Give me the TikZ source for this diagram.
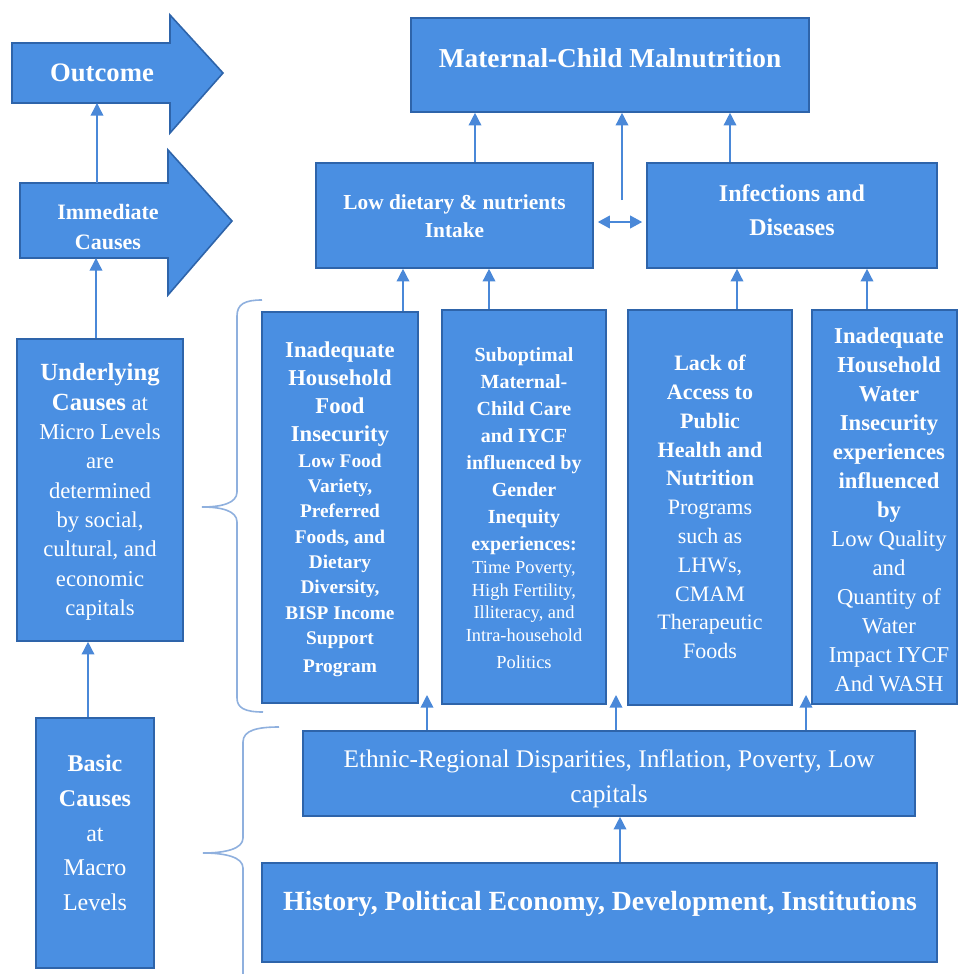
\documentclass[tikz,border=0pt]{standalone}
\usepackage{fontspec}
\setmainfont{Liberation Serif}
\usetikzlibrary{arrows.meta,fit}
\definecolor{boxfill}{HTML}{4A8FE2}
\definecolor{boxline}{HTML}{2E64AA}
\definecolor{conn}{HTML}{4A88D8}
\definecolor{bracec}{HTML}{8FB0DE}
\tikzset{
  box/.style={draw=boxline, line width=1.2pt, fill=boxfill, inner sep=0pt},
  lbl/.style={text=white, inner sep=0pt, align=flush center},
  bigarrow/.style={draw=boxline, line width=1.2pt, fill=boxfill},
  arr/.style={draw=conn, line width=1.1pt, -{Triangle[width=9.5pt,length=9.5pt]}},
  darr/.style={draw=conn, line width=1.1pt, {Triangle[width=9.5pt,length=9pt]}-{Triangle[width=9.5pt,length=9pt]}},
  bracepath/.style={draw=bracec, line width=1.2pt}
}
\begin{document}
\begin{tikzpicture}[x=0.75pt,y=-0.75pt]
\useasboundingbox (0,0) rectangle (960,974);

% ---------- left column: block arrows ----------
\path[bigarrow] (12,43) -- (170,43) -- (170,15) -- (223,73) -- (170,133) -- (170,103) -- (12,103) -- cycle;
\node[lbl, font=\fontsize{20}{24}\selectfont\bfseries] (oc) at (102,73) {Outcome};
\path[bigarrow] (20,183) -- (168,183) -- (168,150) -- (232,221) -- (168,295) -- (168,258) -- (20,258) -- cycle;
\node[lbl, font=\fontsize{16.5}{23}\selectfont\bfseries] (ic) at (108,227) {Immediate\\Causes};
\coordinate (ocs) at (97,103);
\coordinate (icn) at (97,183);
\coordinate (ics) at (96,258);

% ---------- left column: boxes ----------
\node[box, fit={(17,339)(183,641)}] (und) {};
\node[lbl, text width=124pt, font=\fontsize{17}{22}\selectfont] (undt) at (100,492)
  {{\fontsize{18.5}{22}\selectfont\bfseries Underlying\\Causes} at\\Micro Levels\\are\\determined\\by social,\\cultural, and\\economic\\capitals};
\node[box, fit={(36,718)(154,968)}] (bas) {};
\node[lbl, font=\fontsize{18}{26}\selectfont] (bast) at (95,833)
  {\bfseries Basic\\\bfseries Causes\\at\\Macro\\Levels};

% ---------- top boxes ----------
\node[box, fit={(411,18)(809,112)}] (mcm) {};
\node[lbl, font=\fontsize{20.5}{24}\selectfont\bfseries] (mcmt) at (610,58) {Maternal-Child Malnutrition};
\node[box, fit={(316,163)(593,268)}] (low) {};
\node[lbl, text width=207pt, font=\fontsize{16}{21}\selectfont\bfseries] (lowt) at (454.5,216.5)
  {Low dietary \& nutrients\\Intake};
\node[box, fit={(647,163)(937,268)}] (inf) {};
\node[lbl, text width=217pt, font=\fontsize{18}{25.5}\selectfont\bfseries] (inft) at (792,210.5)
  {Infections and\\Diseases};

% ---------- four cause boxes ----------
\node[box, fit={(262,312)(418,703)}] (b1) {};
\node[lbl, text width=117pt, font=\fontsize{17}{21}\selectfont\bfseries] (b1t) at (340,509.5)
  {Inadequate\\Household\\Food\\Insecurity\par\fontsize{14.5}{19}\selectfont Low Food\\Variety,\\Preferred\\Foods, and\\Dietary\\Diversity,\\BISP Income\\Support\\Program};
\node[box, fit={(442,310)(606,704)}] (b2) {};
\node[lbl, text width=123pt, font=\fontsize{15}{20.3}\selectfont\bfseries] (b2t) at (524,508)
  {Suboptimal\\Maternal-\\Child Care\\and IYCF\\influenced by\\Gender\\Inequity\\experiences:\par\fontsize{13.8}{16.9}\selectfont\mdseries Time Poverty,\\High Fertility,\\Illiteracy, and\\Intra-household\\Politics};
\node[box, fit={(628,310)(792,705)}] (b3) {};
\node[lbl, text width=123pt, font=\fontsize{16.5}{21.6}\selectfont\bfseries] (b3t) at (710,507)
  {Lack of\\Access to\\Public\\Health and\\Nutrition\par\mdseries Programs\\such as\\LHWs,\\CMAM\\Therapeutic\\Foods};
\node[box, fit={(812,310)(957,704)}] (b4) {};
\node[lbl, text width=108pt, font=\fontsize{17}{21.75}\selectfont\bfseries] (b4t) at (889,510)
  {Inadequate\\Household\\Water\\Insecurity\\experiences\\influenced\\by\par\mdseries Low Quality\\and\\Quantity of\\Water\\Impact IYCF\\And WASH};

% ---------- bottom boxes ----------
\node[box, fit={(303,731)(915,816)}] (eth) {};
\node[lbl, text width=459pt, font=\fontsize{19}{26}\selectfont] (etht) at (609,779)
  {Ethnic-Regional Disparities, Inflation, Poverty, Low\\capitals};
\node[box, fit={(262,863)(937,962)}] (his) {};
\node[lbl, font=\fontsize{20.8}{24}\selectfont\bfseries] (hist) at (600,904)
  {History, Political Economy, Development, Institutions};

% ---------- connectors ----------
\draw[arr] (icn) -- (ocs);
\draw[arr] (ics |- und.north) -- (ics);
\draw[arr] (88,0 |- bas.north) -- (88,0 |- und.south);

\draw[arr] (475,0 |- low.north) -- (475,0 |- mcm.south);
\coordinate (midfoot) at (622,200);
\draw[arr] (midfoot) -- (midfoot |- mcm.south);
\draw[arr] (730,0 |- inf.north) -- (730,0 |- mcm.south);
\draw[darr] ([xshift=3pt]low.east |- 0,222) -- ([xshift=-3pt]inf.west |- 0,222);

\draw[arr] (403,0 |- b1.north) -- (403,0 |- low.south);
\draw[arr] (489,0 |- b2.north) -- (489,0 |- low.south);
\draw[arr] (737,0 |- b3.north) -- (737,0 |- inf.south);
\draw[arr] (867,0 |- b4.north) -- (867,0 |- inf.south);

\coordinate (e1) at (427,695);
\coordinate (e2) at (616,695);
\coordinate (e3) at (806,695);
\draw[arr] (e1 |- eth.north) -- (e1);
\draw[arr] (e2 |- eth.north) -- (e2);
\draw[arr] (e3 |- eth.north) -- (e3);
\draw[arr] (620,0 |- his.north) -- (620,0 |- eth.south);

% ---------- braces ----------
\path[bracepath] (262,300) .. controls (245,300) and (237,304) .. (237,316)
  -- (237,492) .. controls (237,503) and (222,507) .. (202,507)
  .. controls (222,507) and (237,511) .. (237,522)
  -- (237,698) .. controls (237,708) and (245,712) .. (263,712);
\path[bracepath] (279,727) .. controls (258,727) and (243,730) .. (243,742)
  -- (243,838) .. controls (243,849) and (225,853) .. (203,853)
  .. controls (225,853) and (243,857) .. (243,868)
  -- (243,974);
\end{tikzpicture}
\end{document}
